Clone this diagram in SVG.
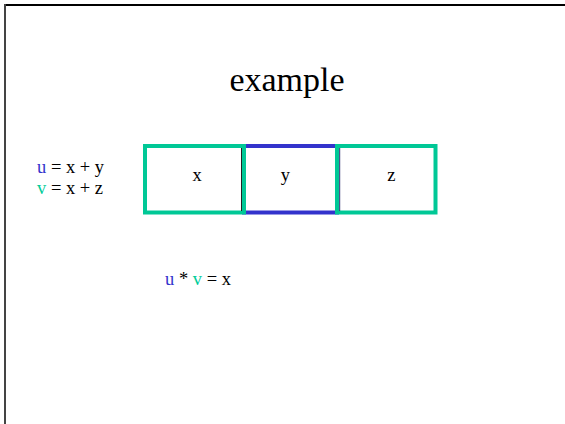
<svg xmlns="http://www.w3.org/2000/svg" width="565" height="424" viewBox="0 0 565 424">
<style>
text{font-family:"Liberation Serif","Times New Roman",serif;fill:#000}
.t{font-size:18.5px}
.u{fill:#3333CC}
.v{fill:#00CC99}
.g{fill:none;stroke:#00C896;stroke-width:4}
.b{fill:none;stroke:#3333CC;stroke-width:4}
</style>
<rect width="565" height="424" fill="#fff"/>
<g id="frame">
<line x1="4" y1="5" x2="565" y2="5" stroke="#000" stroke-width="2"/>
<line x1="5" y1="4" x2="5" y2="424" stroke="#444" stroke-width="2"/>
</g>
<g id="title"><text x="287" y="91" font-size="34" text-anchor="middle">example</text></g>
<g id="defs-text">
<text class="t" x="37" y="173"><tspan class="u">u</tspan> = x + y</text>
<text class="t" x="37" y="194"><tspan class="v">v</tspan> = x + z</text>
</g>
<g id="box-y"><rect class="b" x="244" y="146" width="93" height="66.5"/><text class="t" x="285.3" y="181" text-anchor="middle">y</text></g>
<g id="box-x"><rect class="g" x="145" y="146" width="99" height="66.5"/><line x1="241.5" y1="148" x2="241.5" y2="211" stroke="#222" stroke-width="1"/><text class="t" x="197" y="181" text-anchor="middle">x</text></g>
<g id="box-z"><rect class="g" x="337" y="146" width="98.5" height="66.5"/><line x1="339.7" y1="148" x2="339.7" y2="211" stroke="#2a2a70" stroke-width="1"/><text class="t" x="391.3" y="181" text-anchor="middle">z</text></g>
<g id="result"><text class="t" x="165" y="285"><tspan class="u">u</tspan> * <tspan class="v">v</tspan> = x</text></g>
</svg>
